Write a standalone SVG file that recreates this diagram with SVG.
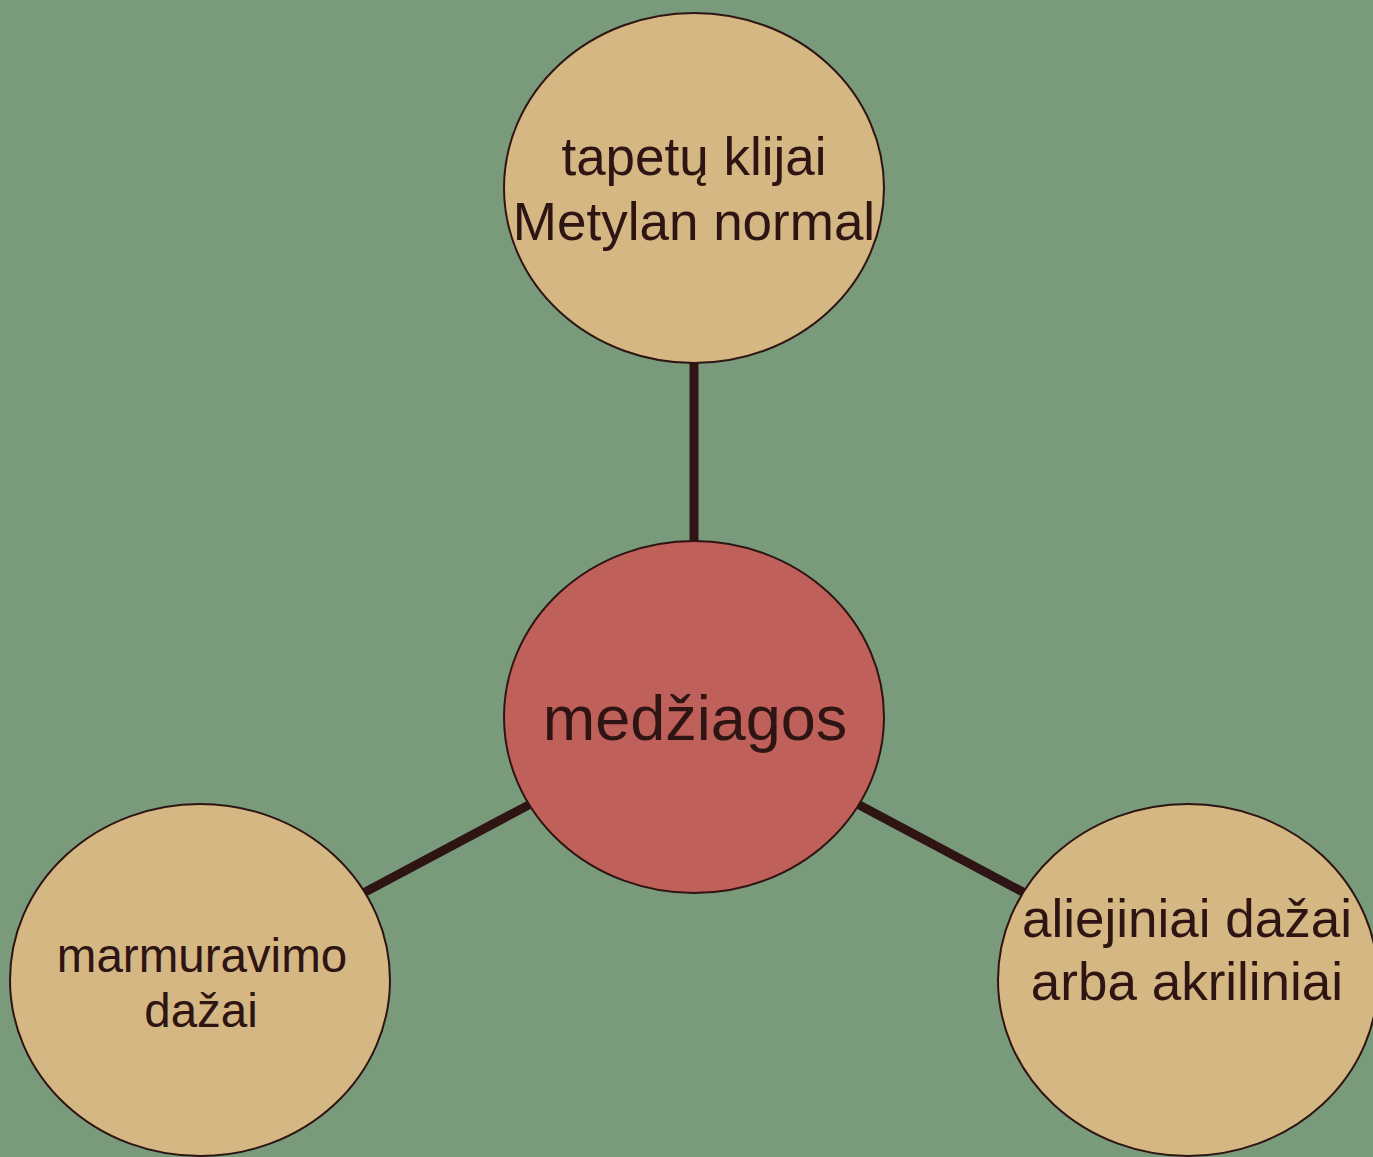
<svg xmlns="http://www.w3.org/2000/svg" width="1373" height="1157" viewBox="0 0 1373 1157">
<style>
.bg{fill:#7a9a7c}
.leaf{fill:#d4b783;stroke:#2e1412;stroke-width:2}
.hub{fill:#c0605a;stroke:#2e1412;stroke-width:2}
.edge{stroke:#2e1412;stroke-width:9;fill:none}
text{font-family:"Liberation Sans",Arial,sans-serif;fill:#2e1412;text-anchor:middle}
</style>
<rect class="bg" x="0" y="0" width="1373" height="1157"/>
<g id="connectors">
<line class="edge" x1="694" y1="717" x2="694" y2="188"/>
<line class="edge" x1="694" y1="717" x2="200" y2="980"/>
<line class="edge" x1="694" y1="717" x2="1188" y2="980"/>
</g>
<g id="node-top">
<ellipse class="leaf" cx="694" cy="188" rx="190" ry="175"/>
<text x="694" y="175" font-size="53">tapetų klijai</text>
<text x="694" y="240" font-size="53">Metylan normal</text>
</g>
<g id="node-center">
<ellipse class="hub" cx="694" cy="717" rx="190" ry="176"/>
<text x="695" y="740" font-size="63">medžiagos</text>
</g>
<g id="node-left">
<ellipse class="leaf" cx="200" cy="980" rx="190" ry="176"/>
<text x="202" y="972" font-size="47.5">marmuravimo</text>
<text x="201" y="1027" font-size="47.5">dažai</text>
</g>
<g id="node-right">
<ellipse class="leaf" cx="1188" cy="980" rx="190" ry="176"/>
<text x="1187" y="937" font-size="53">aliejiniai dažai</text>
<text x="1187" y="1000" font-size="53">arba akriliniai</text>
</g>
</svg>
